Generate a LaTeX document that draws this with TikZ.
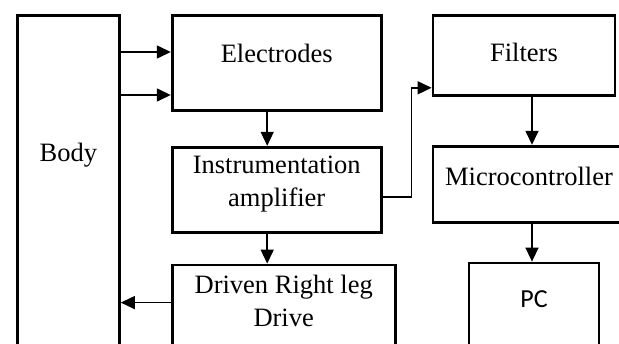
\documentclass[tikz,border=0pt]{standalone}
\usepackage{fontspec}
\setmainfont{Liberation Serif}
\newfontfamily\pcfont{Carlito}
\usetikzlibrary{positioning, arrows.meta}
\tikzstyle{block} = [rectangle, draw=black, line width=2.8pt, inner sep=0pt, text centered, align=center, font=\fontsize{26.5}{33}\selectfont]
\tikzstyle{arrow} = [line width=1.5pt, -{Triangle[length=14pt,width=13pt]}]

\begin{document}
\begin{tikzpicture}
    \useasboundingbox (0,0) rectangle (619pt,-343pt);

    % Nodes
    \node (body) [block, anchor=north west, minimum width=102pt, text height=146pt, text depth=200pt] at (16pt,-14pt) {Body};
    \node (electrodes) [block, right=50pt of body.north east, anchor=north west, minimum width=209pt, text height=47pt, text depth=48pt] {Electrodes};
    \node (instr) [block, below=34pt of electrodes.south west, anchor=north west, minimum width=209pt, text height=59pt, text depth=26pt] {Instrumentation\\amplifier};
    \node (drl) [block, below=30pt of instr.south west, anchor=north west, minimum width=223pt, text height=61pt, text depth=48pt] {Driven Right leg\\Drive};

    \node (filters) [block, right=49pt of electrodes.north east, anchor=north west, minimum width=182pt, text height=46pt, text depth=34pt] {Filters};
    \node (micro) [block, below=48pt of filters.south west, anchor=north west, minimum width=192pt, text height=39pt, text depth=37pt] {Microcontroller};
    \node (pc) [block, below=38pt of micro.south west, anchor=north west, xshift=36pt, minimum width=130pt, text height=44pt, text depth=64pt, font=\fontsize{26}{30}\pcfont] {PC};

    \coordinate (in1) at ([yshift=-38pt]electrodes.north west);
    \coordinate (in2) at ([yshift=-81pt]electrodes.north west);
    \coordinate (back) at ([yshift=-39pt]drl.north west);

    % Arrows
    \draw [arrow] (body.east |- in1) -- (in1);
    \draw [arrow] (body.east |- in2) -- (in2);
    \draw [arrow] ([xshift=-9.5pt]electrodes.south) -- ([xshift=-9.5pt]instr.north);
    \draw [arrow] ([xshift=-9.5pt]instr.south) -- ([xshift=-9.5pt]instr.south |- drl.north);
    \draw [arrow] (back) -- (body.east |- back);
    \draw [arrow] ([yshift=-7.5pt]instr.east) -- ++(29pt,0) |- ([yshift=9pt]filters.south west);
    \draw [arrow] ([xshift=8pt]filters.south) -- ([xshift=8pt]filters.south |- micro.north);
    \draw [arrow] ([xshift=3pt]micro.south) -- ([xshift=3pt]micro.south |- pc.north);

\end{tikzpicture}
\end{document}
